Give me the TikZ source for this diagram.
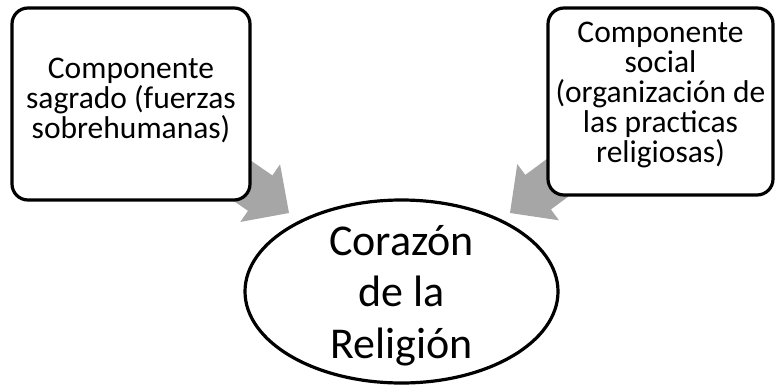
\documentclass[tikz,border=0pt]{standalone}
\usepackage{fontspec}
\setmainfont{Carlito}
\usepackage{xcolor}
\usetikzlibrary{
    shapes,
    positioning,
    backgrounds,
    calc
}
\definecolor{arrowgray}{RGB}{166,166,166}

\begin{document}
\begin{tikzpicture}[x=1pt, y=-1pt, comp-node/.style={
                rectangle, draw=black, fill=white, line width=3.2pt, rounded corners=16pt, inner sep=0pt},
                comp-text/.style={align=center, inner sep=0pt, font=\fontsize{31.5}{30}\selectfont},
                core-node/.style={ellipse, draw=black, fill=white, line width=3.2pt, inner sep=0pt}]
                \useasboundingbox (0,0) rectangle (775,385);
                \node [comp-node, minimum width=238pt, minimum height=192pt] (sacred) at (131,104) {};
                \node [comp-text] (sacred-text) at ($(sacred)+(0,-3.5)$) {Componente\\ sagrado (fuerzas\\ sobrehumanas)};
                \node [comp-node, minimum width=225pt, minimum height=187pt] (social) at (660.5,101.5) {};
                \node [comp-text] (social-text) at ($(social)+(0,-7)$) {Componente\\ social\\ (organización de\\ las practicas\\ religiosas)};
                \node [core-node, minimum width=313pt, minimum height=183pt] (core) at (401.5,291.5) {};
                \node [align=center, inner sep=0pt, font=\fontsize{44}{51.5}\selectfont] (core-text) at ($(core)+(0,4)$) {Corazón\\ de la\\ Religión};
                \coordinate (tip-sacred) at (289,213);
                \coordinate (tip-social) at (510,213);
                \begin{scope}[on background layer]
                \foreach \src/\tip in {sacred/tip-sacred, social/tip-social}{
                    \coordinate (neck) at ($(\tip)!35pt!(\src)$);
                    \fill [arrowgray] ($(\src)!21.5pt!90:(\tip)$) -- ($(neck)!21.5pt!90:(\tip)$) -- ($(neck)!35pt!90:(\tip)$) -- (\tip)
                        -- ($(neck)!35pt!-90:(\tip)$) -- ($(neck)!21.5pt!-90:(\tip)$) -- ($(\src)!21.5pt!-90:(\tip)$) -- cycle;
                }
                \end{scope}
            \end{tikzpicture}
\end{document}
